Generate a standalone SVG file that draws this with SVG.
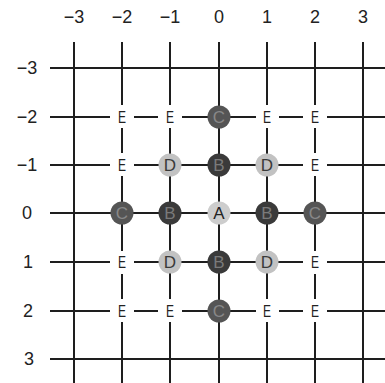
<svg xmlns="http://www.w3.org/2000/svg" width="385" height="383" viewBox="0 0 385 383">
<style>
.lbl{font-family:"Liberation Sans",Arial,sans-serif;font-size:18px;fill:#222;text-anchor:middle}
.ltr{font-family:"Liberation Sans",Arial,sans-serif;font-size:17px;text-anchor:middle}
.ln{stroke:#1e1e1e;stroke-width:2;fill:none}
.e{fill:#222}
.cB{fill:#3a3a3a}
.cC{fill:#555}
.cD{fill:#c2c2c2}
.cA{fill:#cdcdcd}
.tB{fill:#7a7a7a}
.tC{fill:#888}
.tD{fill:#3a3a3a}
.tA{fill:#222}
</style>
<rect width="385" height="383" fill="#fff"/>
<g id="col-labels" class="lbl">
<text x="74" y="23">−3</text><text x="122" y="23">−2</text><text x="170" y="23">−1</text><text x="219" y="23">0</text><text x="267" y="23">1</text><text x="315" y="23">2</text><text x="363" y="23">3</text>
</g>
<g id="row-labels" class="lbl">
<text x="27" y="74">−3</text><text x="27" y="123">−2</text><text x="27" y="171">−1</text><text x="27" y="219">0</text><text x="28" y="268">1</text><text x="28" y="317">2</text><text x="29" y="365">3</text>
</g>
<g id="connectors" class="ln">
<path d="M50 68H385M50 359H385"/>
<path d="M50 117H110M134 117H158M182 117H256M279 117H303M327 117H385"/>
<path d="M50 165H110M134 165H303M327 165H385"/>
<path d="M50 213H385"/>
<path d="M50 262H110M134 262H303M327 262H385"/>
<path d="M50 311H110M134 311H158M182 311H256M279 311H303M327 311H385"/>
<path d="M74 42V383M363 42V383M219 42V383"/>
<path d="M122 42V105M122 128V153M122 176V251M122 274V299M122 322V383"/>
<path d="M315 42V105M315 128V153M315 176V251M315 274V299M315 322V383"/>
<path d="M170 42V105M170 128V299M170 322V383"/>
<path d="M267 42V105M267 128V299M267 322V383"/>
</g>
<g id="n-m2-m2"><text class="ltr e" x="122" y="123" textLength="8" lengthAdjust="spacingAndGlyphs">E</text></g>
<g id="n-m1-m2"><text class="ltr e" x="170" y="123" textLength="8" lengthAdjust="spacingAndGlyphs">E</text></g>
<g id="n-0-m2"><circle class="cC" cx="219" cy="117" r="11.5"/><text class="ltr tC" x="219" y="123">C</text></g>
<g id="n-1-m2"><text class="ltr e" x="267" y="123" textLength="8" lengthAdjust="spacingAndGlyphs">E</text></g>
<g id="n-2-m2"><text class="ltr e" x="315" y="123" textLength="8" lengthAdjust="spacingAndGlyphs">E</text></g>
<g id="n-m2-m1"><text class="ltr e" x="122" y="171" textLength="8" lengthAdjust="spacingAndGlyphs">E</text></g>
<g id="n-m1-m1"><circle class="cD" cx="170" cy="165" r="11.5"/><text class="ltr tD" x="170" y="171">D</text></g>
<g id="n-0-m1"><circle class="cB" cx="219" cy="165" r="11.5"/><text class="ltr tB" x="219" y="171">B</text></g>
<g id="n-1-m1"><circle class="cD" cx="267" cy="165" r="11.5"/><text class="ltr tD" x="267" y="171">D</text></g>
<g id="n-2-m1"><text class="ltr e" x="315" y="171" textLength="8" lengthAdjust="spacingAndGlyphs">E</text></g>
<g id="n-m2-0"><circle class="cC" cx="122" cy="213" r="11.5"/><text class="ltr tC" x="122" y="219">C</text></g>
<g id="n-m1-0"><circle class="cB" cx="170" cy="213" r="11.5"/><text class="ltr tB" x="170" y="219">B</text></g>
<g id="n-0-0"><circle class="cA" cx="219" cy="213" r="11.5"/><text class="ltr tA" x="219" y="219">A</text></g>
<g id="n-1-0"><circle class="cB" cx="267" cy="213" r="11.5"/><text class="ltr tB" x="267" y="219">B</text></g>
<g id="n-2-0"><circle class="cC" cx="315" cy="213" r="11.5"/><text class="ltr tC" x="315" y="219">C</text></g>
<g id="n-m2-1"><text class="ltr e" x="122" y="268" textLength="8" lengthAdjust="spacingAndGlyphs">E</text></g>
<g id="n-m1-1"><circle class="cD" cx="170" cy="262" r="11.5"/><text class="ltr tD" x="170" y="268">D</text></g>
<g id="n-0-1"><circle class="cB" cx="219" cy="262" r="11.5"/><text class="ltr tB" x="219" y="268">B</text></g>
<g id="n-1-1"><circle class="cD" cx="267" cy="262" r="11.5"/><text class="ltr tD" x="267" y="268">D</text></g>
<g id="n-2-1"><text class="ltr e" x="315" y="268" textLength="8" lengthAdjust="spacingAndGlyphs">E</text></g>
<g id="n-m2-2"><text class="ltr e" x="122" y="317" textLength="8" lengthAdjust="spacingAndGlyphs">E</text></g>
<g id="n-m1-2"><text class="ltr e" x="170" y="317" textLength="8" lengthAdjust="spacingAndGlyphs">E</text></g>
<g id="n-0-2"><circle class="cC" cx="219" cy="311" r="11.5"/><text class="ltr tC" x="219" y="317">C</text></g>
<g id="n-1-2"><text class="ltr e" x="267" y="317" textLength="8" lengthAdjust="spacingAndGlyphs">E</text></g>
<g id="n-2-2"><text class="ltr e" x="315" y="317" textLength="8" lengthAdjust="spacingAndGlyphs">E</text></g>
</svg>
